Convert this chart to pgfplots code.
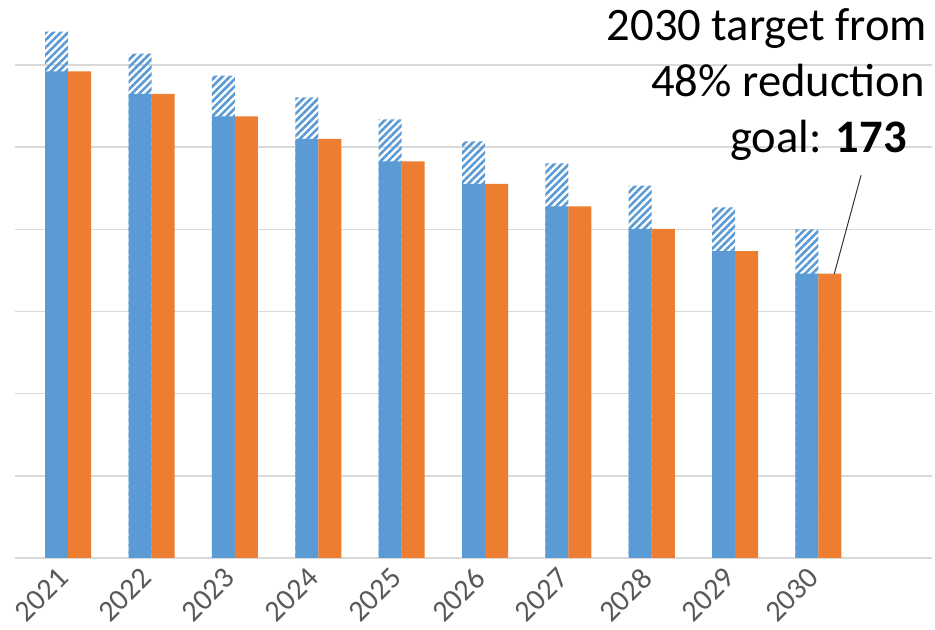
\documentclass[border=0pt]{standalone}
\usepackage{pgfplots}
\pgfplotsset{compat=1.18}
\usetikzlibrary{patterns.meta}
\usepackage{fontspec}
\setmainfont{Carlito}

\definecolor{barblue}{HTML}{5B9BD5}
\definecolor{barorange}{HTML}{ED7D31}
\definecolor{gridgray}{HTML}{D9D9D9}
\definecolor{ticktext}{HTML}{595959}

% x = year index (0 = 2021), y = emissions
\pgfplotstableread{
x base top
0 296.2 320.4
1 282.5 307.0
2 268.8 293.6
3 255.1 280.3
4 241.4 266.9
5 227.7 253.5
6 214.0 240.1
7 200.3 226.7
8 186.7 213.4
9 173.0 200.0
}\emissions

\begin{document}
\begin{tikzpicture}
\begin{axis}[
    scale only axis,
    width=458.5pt, height=279pt,
    xmin=-0.5, xmax=10.5,
    ymin=0, ymax=339.6,
    clip=false,
    ybar,
    bar width=0.276,
    axis x line*=bottom,
    axis y line*=left,
    x axis line style={draw=gridgray, line width=0.8pt, -},
    y axis line style={draw=none},
    ymajorgrids,
    grid style={gridgray, line width=0.8pt},
    ytick={0,50,...,300},
    yticklabels={},
    major tick length=0pt,
    xtick={0,...,9},
    xticklabels={2021,2022,2023,2024,2025,2026,2027,2028,2029,2030},
    xticklabel style={rotate=45, anchor=north east, text=ticktext,
        font=\fontsize{15}{17}\selectfont, inner sep=1pt,
        xshift=-2pt, yshift=-1.5pt},
  ]
% hatched part: bar up to the top value, covered below by the solid part
\addplot[bar shift=0, draw=none,
    pattern={Lines[angle=45, distance=2.6pt, line width=1.3pt]},
    pattern color=barblue] table[x=x, y=top] {\emissions};
\addplot[bar shift=0, draw=none, fill=barblue] table[x=x, y=base] {\emissions};
\addplot[bar shift=0.276, draw=none, fill=barorange] table[x=x, y=base] {\emissions};

\draw[black!80, line width=0.5pt] (axis cs:9.328,173) -- (axis cs:9.649,233);
\node[anchor=base east, inner sep=0pt, font=\fontsize{23.3}{28}\selectfont]
    at (axis cs:10.444,314.9) {2030 target from};
\node[anchor=base east, inner sep=0pt, font=\fontsize{23.3}{28}\selectfont]
    at (axis cs:10.42,280.8) {48\% reduction};
\node[anchor=base east, inner sep=0pt, font=\fontsize{23.3}{28}\selectfont]
    at (axis cs:10.2,246.5) {goal: \textbf{173}};
\end{axis}
\pgfresetboundingbox
\path (-7.5pt,-36pt) rectangle (460pt,279pt);
\end{tikzpicture}
\end{document}
